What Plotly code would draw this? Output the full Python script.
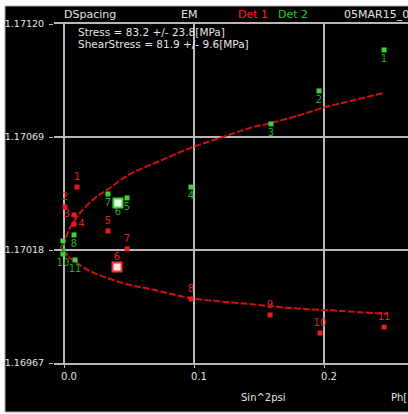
import plotly.graph_objects as go

# ---- data ----
det1_labels = ["1", "2", "3", "4", "5", "6", "7", "8", "9", "10", "11"]
det1_x = [0.0100, 0.0008, 0.0077, 0.0077, 0.0338, 0.0408, 0.0485, 0.0977, 0.1585, 0.1969, 0.2462]
det1_y = [1.170464, 1.170374, 1.170338, 1.170297, 1.170266, 1.170103, 1.170185,
          1.169959, 1.169887, 1.169805, 1.169832]

det2_labels = ["1", "2", "3", "4", "5", "6", "7", "8", "9", "10", "11"]
det2_x = [0.2462, 0.1962, 0.1592, 0.0977, 0.0485, 0.0415, 0.0338, 0.0077, -0.0008, -0.0008, 0.0085]
det2_y = [1.171083, 1.170898, 1.170749, 1.170464, 1.170415, 1.170392, 1.170433,
          1.170248, 1.170221, 1.170162, 1.170135]

fit_upper_x = [-0.0008, 0.0008, 0.0046, 0.0123, 0.0238, 0.0331, 0.0508, 0.0738,
               0.0992, 0.1223, 0.1431, 0.1592, 0.1815, 0.1985, 0.2200, 0.2462]
fit_upper_y = [1.170198, 1.170225, 1.170279, 1.170347, 1.170415, 1.170451, 1.170523, 1.170582,
               1.170645, 1.170690, 1.170731, 1.170753, 1.170789, 1.170821, 1.170852, 1.170889]
fit_lower_x = [-0.0008, 0.0046, 0.0123, 0.0200, 0.0331, 0.0508, 0.0662, 0.0977,
               0.1431, 0.1738, 0.2123, 0.2492]
fit_lower_y = [1.170180, 1.170144, 1.170112, 1.170085, 1.170054, 1.170022, 1.170004, 1.169963,
               1.169936, 1.169918, 1.169905, 1.169891]

selected_index = 5  # point "6" highlighted

y_ticks = [1.16967, 1.17018, 1.17069, 1.17120]
y_tick_text = ["1.16967", "1.17018", "1.17069", "1.17120"]
x_ticks = [0.0, 0.1, 0.2]
x_tick_text = ["0.0", "0.1", "0.2"]

stress_text = "Stress = 83.2 +/- 23.8[MPa]"
shear_text = "ShearStress = 81.9 +/- 9.6[MPa]"

# ---- styling ----
FONT = "DejaVu Sans"
RED = "#e81c1c"
RED_TXT = "#e02020"
GREEN = "#3ad43a"
GREEN_TXT = "#22b022"
GRID = "#b8b8b8"
TXT = "#e4e4e4"

fig = go.Figure()

for fx, fy in ((fit_upper_x, fit_upper_y), (fit_lower_x, fit_lower_y)):
    fig.add_trace(go.Scatter(
        x=fx, y=fy, mode="lines", line=dict(color="#cc1010", width=2, dash="7px,2px", shape="spline"),
        hoverinfo="skip", showlegend=False))

det1_pos = ["top center"] * len(det1_labels)
det1_pos[2] = "middle left"
det1_pos[3] = "middle right"

fig.add_trace(go.Scatter(
    x=det1_x, y=det1_y, mode="markers+text", text=det1_labels, textposition=det1_pos,
    textfont=dict(family=FONT, size=10, color=RED_TXT),
    marker=dict(symbol="square", size=5, color=RED, line=dict(width=0)),
    showlegend=False, name="Det 1"))

fig.add_trace(go.Scatter(
    x=det2_x, y=det2_y, mode="markers+text", text=det2_labels, textposition="bottom center",
    textfont=dict(family=FONT, size=10, color=GREEN_TXT),
    marker=dict(symbol="square", size=5, color=GREEN, line=dict(width=0)),
    showlegend=False, name="Det 2"))

# highlighted (selected) points
fig.add_trace(go.Scatter(
    x=[det1_x[selected_index]], y=[det1_y[selected_index]], mode="markers",
    marker=dict(symbol="square", size=9, color="#ffe8e8", line=dict(width=2, color="#ff3030")),
    showlegend=False, hoverinfo="skip"))
fig.add_trace(go.Scatter(
    x=[det2_x[selected_index]], y=[det2_y[selected_index]], mode="markers",
    marker=dict(symbol="square", size=9, color="#e8ffe8", line=dict(width=2, color="#40d040")),
    showlegend=False, hoverinfo="skip"))

# panel geometry in paper coords
L, R, T, B = 54, 0, 24, 51
W, H = 408, 414
pw, ph = W - L - R, H - T - B
def px(p):
    return (p - L) / pw
def py(p):
    return (H - B - p) / ph

shapes = [dict(type="rect", xref="paper", yref="paper", layer="below",
               x0=px(5), x1=px(412), y0=py(412), y1=py(6),
               fillcolor="black", line=dict(color="#a8a8a8", width=1))]

ann = []
def add_text(t, x, y, color=TXT, size=10):
    ann.append(dict(text=t, xref="paper", yref="paper", x=px(x), y=py(y),
                    xanchor="left", yanchor="middle", showarrow=False,
                    font=dict(family=FONT, size=size, color=color)))

add_text("DSpacing", 62, 15, size=11)
add_text("EM", 179, 15, size=11)
add_text("Det 1", 236, 15, color="#ff2020", size=11)
add_text("Det 2", 276, 15, color="#20d020", size=11)
add_text("05MAR15_0", 342, 15, size=11)
add_text(stress_text, 76, 32, size=10.5)
add_text(shear_text, 76, 44, size=10.5)
add_text("Sin^2psi", 239, 397)
add_text("Ph[", 389, 397)

fig.update_layout(
    width=W, height=H,
    margin=dict(l=L, r=R, t=T, b=B, pad=0),
    paper_bgcolor="white", plot_bgcolor="black",
    shapes=shapes, annotations=ann, showlegend=False,
    xaxis=dict(range=[-10 / 1300, 344 / 1300], tickvals=x_ticks, ticktext=x_tick_text,
               showgrid=True, gridcolor=GRID, gridwidth=1.5, zeroline=False,
               showline=True, linecolor=GRID, linewidth=1.5, mirror=True,
               ticks="outside", ticklen=3, tickcolor=GRID, ticklabelshift=5,
               tickfont=dict(family=FONT, size=10, color=TXT)),
    yaxis=dict(range=[1.16967, 1.17120], tickvals=y_ticks, ticktext=y_tick_text,
               showgrid=True, gridcolor=GRID, gridwidth=1.5, zeroline=False,
               showline=False, ticks="outside", ticklen=4, tickcolor=GRID,
               ticklabelstandoff=3,
               tickfont=dict(family=FONT, size=9.5, color=TXT)),
)

fig.write_html("out.html", config={"displayModeBar": False},
               post_script="document.body.style.margin='0px';document.body.style.overflow='hidden';")
